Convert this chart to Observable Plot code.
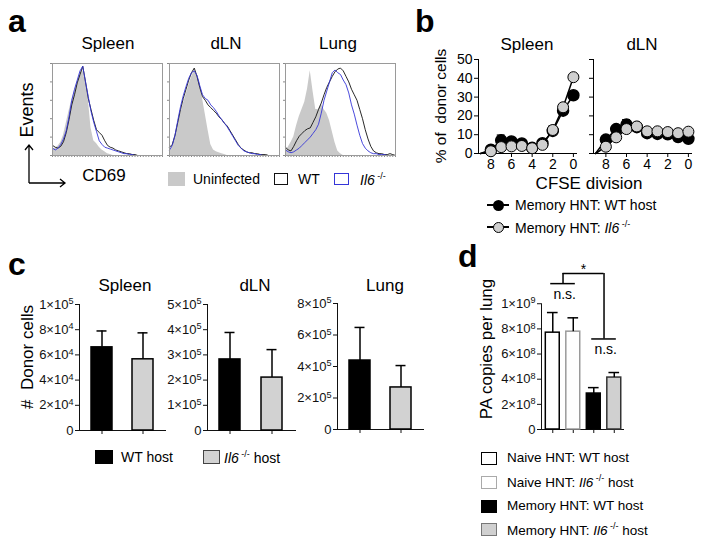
<!DOCTYPE html>
<html><head><meta charset="utf-8">
<script src="https://cdn.jsdelivr.net/npm/d3@7"></script>
<script src="https://cdn.jsdelivr.net/npm/@observablehq/plot@0.6"></script>
<style>
body{margin:0;background:#fff;}
#fig{position:relative;width:701px;height:549px;overflow:hidden;font-family:"Liberation Sans",Arial,Helvetica,sans-serif;color:#000;background:#fff;}
.t{position:absolute;white-space:pre;line-height:1;}
.c{transform:translate(-50%,-50%);}
.l{transform:translate(0,-50%);}
.r{transform:translate(-50%,-50%) rotate(-90deg);}
.letter{font-weight:bold;font-size:32px;line-height:32px;}
.sw{position:absolute;box-sizing:border-box;}
.sup{font-size:9px;vertical-align:6px;}
</style></head>
<body><div id="fig"></div>
<script>
// ================= DATA =================
// Panel a: CD69 histograms, % of modal events per bin (41 bins along log CD69 axis)
const histBins = d3.range(41);
const spleenUninfected = [7,8,10,14,22,35,48,60,70,80,89,93,80,62,30,16,13,9,6,4,2,1,0,0,0,0,0,0,0,0,0,0,0,0,0,0,0,0,0,0,0];
const spleenWTHist     = [11,9,8,10,15,25,39,55,66,79,88,97,80,62,50,38,28,25,22,16,11,9,8,6,5,4,3,2,2,1,1,0,0,0,0,0,0,0,0,0,0];
const spleenIl6Hist    = [8,6,8,12,18,27,42,60,72,82,92,97,80,64,48,36,26,16,12,9,8,7,6,5,4,3,2,2,1,1,0,0,0,0,0,0,0,0,0,0,0];
const dlnUninfected    = [5,10,20,32,45,56,66,76,85,92,88,80,62,45,28,12,6,4,3,2,1,0,0,0,0,0,0,0,0,0,0,0,0,0,0,0,0,0,0,0,0];
const dlnWTHist        = [9,12,22,36,50,62,72,82,90,95,86,74,64,60,55,52,49,46,42,39,35,32,27,22,17,12,8,6,4,3,3,2,2,1,1,1,0,0,0,0,0];
const dlnIl6Hist       = [6,11,22,38,53,65,75,84,90,92,87,76,66,62,60,55,52,48,43,39,35,31,26,21,16,11,8,5,4,3,2,2,1,1,0,0,0,0,0,0,0];
const lungUninfected   = [5,9,14,20,32,42,50,58,72,92,70,50,50,56,50,46,38,26,14,5,2,0,0,0,0,0,0,0,0,0,0,0,0,0,0,0,0,0,0,0,0];
const lungWTHist       = [9,6,5,10,16,21,24,27,29,30,36,42,50,57,66,74,80,86,91,94,95,92,86,80,72,66,60,50,40,28,18,10,5,3,2,2,1,1,2,1,0];
const lungIl6Hist      = [6,4,3,4,6,8,11,14,17,20,24,28,34,46,60,70,80,90,93,90,88,82,77,68,55,45,33,22,13,8,5,3,2,2,1,1,1,0,0,0,0];

// Panel b: % of donor cells per CFSE division (9 = line origin)
const cfseDivision = [9, 8, 7, 6, 5, 4, 3, 2, 1, 0];
const cfseTicks = [8, 6, 4, 2, 0];
const pctTicks = [0, 10, 20, 30, 40, 50];
const spleenWT     = [0, 2.0, 7.0, 6.4, 5.3, 3.0, 5.5, 12.0, 22.8, 31.0];
const spleenWTsem  = [0, 0.5, 2.8, 1.0, 1.0, 0.5, 1.0, 2.6, 1.0, 1.0];
const spleenIl6    = [0, 1.2, 3.4, 3.8, 4.0, 2.8, 4.6, 12.5, 24.6, 40.6];
const spleenIl6sem = [0, 0.5, 0.5, 0.5, 0.5, 0.5, 1.0, 1.5, 1.5, 1.5];
const dlnWT        = [0, 7.4, 13.0, 15.4, 14.0, 10.8, 10.4, 10.2, 8.8, 7.8];
const dlnWTsem     = [0, 1.0, 1.0, 2.6, 1.0, 1.0, 1.0, 1.0, 1.0, 1.0];
const dlnIl6       = [0, 3.6, 8.6, 13.0, 14.4, 11.8, 11.8, 11.4, 10.8, 11.6];
const dlnIl6sem    = [0, 0.5, 0.5, 0.5, 0.5, 0.5, 0.5, 0.5, 0.5, 0.5];

// Panel c: # donor cells
const hosts = ["WT host", "Il6-/- host"];
const donorSpleen = [66000, 56500];   const donorSpleenSem = [13000, 21000];
const donorDLN    = [282000, 210000]; const donorDLNSem    = [107000, 111000];
const donorLung   = [438000, 267000]; const donorLungSem   = [210000, 139000];
const spleenTicks = [0, 2e4, 4e4, 6e4, 8e4, 1e5];
const spleenTickLabels = ["0", "2×10^4", "4×10^4", "6×10^4", "8×10^4", "1×10^5"];
const dlnTicks = [0, 1e5, 2e5, 3e5, 4e5, 5e5];
const dlnTickLabels = ["0", "1×10^5", "2×10^5", "3×10^5", "4×10^5", "5×10^5"];
const lungTicks = [0, 2e5, 4e5, 6e5, 8e5];
const lungTickLabels = ["0", "2×10^5", "4×10^5", "6×10^5", "8×10^5"];

// Panel d: PA copies per lung
const paGroups = ["Naive HNT: WT host", "Naive HNT: Il6-/- host", "Memory HNT: WT host", "Memory HNT: Il6-/- host"];
const paCopies = [7.70e8, 7.78e8, 2.86e8, 4.13e8];
const paSem    = [1.60e8, 1.10e8, 0.47e8, 0.40e8];
const paTicks = [0, 2e8, 4e8, 6e8, 8e8, 1e9];
const paTickLabels = ["0", "2×10^8", "4×10^8", "6×10^8", "8×10^8", "1×10^9"];
const nsComparisons = [{a: 0, b: 1, level: 1.16e9, label: "n.s."}, {a: 2, b: 3, level: 0.72e9, label: "n.s."}];
const starComparison = {level: 1.24e9, label: "*"};

// ================= LAYOUT HELPERS =================
const fig = document.getElementById("fig");
const SVGNS = "http://www.w3.org/2000/svg";
const FONT = '"Liberation Sans", Arial, Helvetica, sans-serif';
const baseStyle = (fs, color = "#000") => ({fontFamily: FONT, fontSize: fs + "px", color, background: "transparent", overflow: "visible"});
function place(node, left, top) {
  node.style.position = "absolute"; node.style.left = left + "px"; node.style.top = top + "px";
  node.style.maxWidth = "none"; fig.appendChild(node); return node;
}
// turn "a×10^b" tick labels into real superscripts
function superscripts(svg) {
  svg.querySelectorAll("text").forEach(t => {
    const m = t.textContent.match(/^(.*)\^(\d+)$/);
    if (!m) return;
    t.textContent = "";
    const base = document.createElementNS(SVGNS, "tspan"); base.textContent = m[1];
    const sup = document.createElementNS(SVGNS, "tspan"); sup.textContent = m[2];
    sup.setAttribute("font-size", "0.7em"); sup.setAttribute("dy", "-0.5em");
    t.append(base, sup);
  });
  return svg;
}
function label(html, x, y, size, cls = "c", extra = "") {
  const d = document.createElement("div");
  d.className = "t " + cls; d.innerHTML = html;
  d.style.cssText += `left:${x}px;top:${y}px;font-size:${size}px;${extra}`;
  fig.appendChild(d); return d;
}
function swatch(x, y, w, h, css) {
  const d = document.createElement("div");
  d.className = "sw"; d.style.cssText += `left:${x}px;top:${y}px;width:${w}px;height:${h}px;${css}`;
  fig.appendChild(d); return d;
}
const IL6 = '<i>Il6</i><span class="sup"> -/-</span>';

// ================= PANEL a =================
function histPlot(uninf, wt, il6) {
  const rows = histBins.map(i => ({i, u: uninf[i], w: wt[i], k: il6[i]}));
  return Plot.plot({
    width: 118, height: 100, margin: 4, style: baseStyle(8, "#8a8a8a"),
    x: {domain: [0, 40], ticks: 40, tickSize: 2, tickFormat: () => "", label: null},
    y: {domain: [0, 100], ticks: 6, tickSize: 2, tickFormat: () => "", label: null},
    marks: [
      Plot.areaY(rows, {x: "i", y: "u", fill: "#c9c9c9"}),
      Plot.lineY(rows, {x: "i", y: "w", stroke: "#111", strokeWidth: 0.9}),
      Plot.lineY(rows, {x: "i", y: "k", stroke: "#3535d8", strokeWidth: 0.9}),
      Plot.frame({stroke: "#9a9a9a"})
    ]
  });
}
place(histPlot(spleenUninfected, spleenWTHist, spleenIl6Hist), 48, 59);
place(histPlot(dlnUninfected, dlnWTHist, dlnIl6Hist), 165, 59);
place(histPlot(lungUninfected, lungWTHist, lungIl6Hist), 281, 59);

label("a", 8, 5, 32, "letter");
label("Spleen", 108, 43, 17); label("dLN", 226, 43, 17); label("Lung", 338, 43, 17);
label("Events", 27, 110, 18, "r");
label("CD69", 104, 175, 17);
const arrow = document.createElementNS(SVGNS, "svg");
arrow.setAttribute("width", 55); arrow.setAttribute("height", 50);
arrow.innerHTML = '<g fill="none" stroke="#000" stroke-width="1.3"><path d="M9 43V5M5 10L9 5L13 10M9 43H45M40 39L45 43L40 47"/></g>';
place(arrow, 20, 140);
swatch(168, 172, 17, 14, "background:#c9c9c9;");
label("Uninfected", 193, 179, 14, "l");
swatch(274, 173, 14, 12, "border:1.5px solid #111;");
label("WT", 298, 179, 14, "l");
swatch(334, 173, 15, 12, "border:1.5px solid #3535d8;");
label(IL6, 360, 179, 14, "l");

// ================= PANEL b =================
function cfsePlot(wt, wtSem, il6, il6Sem, showLabels) {
  const mk = (v, e) => cfseDivision.map((d, i) => ({d, v: v[i], e: e[i]}));
  const wtData = mk(wt, wtSem), il6Data = mk(il6, il6Sem);
  const pts = arr => arr.filter(p => p.d < cfseDivision[0]);
  const errMarks = data => [
    Plot.ruleX(pts(data), {x: "d", y1: "v", y2: p => p.v + p.e, strokeWidth: 1.3}),
    Plot.ruleY(pts(data), {y: p => p.v + p.e, x1: p => p.d - 0.38, x2: p => p.d + 0.38, strokeWidth: 1.3})
  ];
  return Plot.plot({
    width: 134, height: 124, marginLeft: 28, marginRight: 8, marginTop: 6, marginBottom: 24,
    style: baseStyle(14),
    x: {domain: [9.2, -0.3], ticks: cfseTicks, tickSize: 4, tickPadding: 2, label: null, line: true},
    y: {domain: [0, 50], ticks: pctTicks, tickSize: 4, tickPadding: 2, label: null, line: true,
        tickFormat: showLabels ? (d => String(d)) : (() => "")},
    marks: [
      ...errMarks(wtData), ...errMarks(il6Data),
      Plot.line(wtData, {x: "d", y: "v", stroke: "#000", strokeWidth: 1.5}),
      Plot.line(il6Data, {x: "d", y: "v", stroke: "#000", strokeWidth: 1.5}),
      Plot.dot(pts(wtData), {x: "d", y: "v", r: 5.5, fill: "#000", stroke: "#000"}),
      Plot.dot(pts(il6Data), {x: "d", y: "v", r: 5.5, fill: "#cfcfcf", stroke: "#000", strokeWidth: 1})
    ]
  });
}
place(cfsePlot(spleenWT, spleenWTsem, spleenIl6, spleenIl6sem, true), 450, 53);
place(cfsePlot(dlnWT, dlnWTsem, dlnIl6, dlnIl6sem, false), 564.5, 53);
label("b", 415, 5, 32, "letter");
label("Spleen", 527, 44, 17); label("dLN", 642, 44, 17);
label("% of  donor cells", 441, 106, 15.5, "r");
label("CFSE division", 589, 183, 17);
swatch(487, 204, 22, 1.6, "background:#000;");
swatch(492.5, 199.5, 11, 11, "background:#000;border-radius:50%;");
label("Memory HNT: WT host", 515, 205, 14, "l");
swatch(487, 226, 22, 1.6, "background:#000;");
swatch(492.5, 221.5, 11, 11, "background:#cfcfcf;border:1px solid #000;border-radius:50%;");
label("Memory HNT: " + IL6, 515, 227, 14, "l");

// ================= PANEL c =================
const hostFill = {"WT host": "#000", "Il6-/- host": "#d2d2d2"};
function donorPlot(vals, sems, ticks, tickLabels, axisWidth) {
  const data = hosts.map((h, i) => ({h, v: vals[i], e: sems[i]}));
  return superscripts(Plot.plot({
    width: 40 + axisWidth + 4, height: 146, marginLeft: 40, marginRight: 4, marginTop: 8, marginBottom: 12,
    style: baseStyle(13, "#111"),
    color: {type: "identity"},
    x: {domain: hosts, paddingInner: 0.49, paddingOuter: 0.29, tickSize: 4, tickFormat: () => "", label: null, line: true},
    y: {domain: [0, ticks[ticks.length - 1]], ticks, tickFormat: d => tickLabels[ticks.indexOf(d)], tickSize: 4, tickPadding: 2, label: null, line: true},
    marks: [
      Plot.barY(data, {x: "h", y: "v", fill: d => hostFill[d.h], stroke: "#000", strokeWidth: 1.5}),
      Plot.ruleX(data, {x: "h", y1: "v", y2: d => d.v + d.e, stroke: "#000", strokeWidth: 1.5}),
      Plot.tickY(data, {x: "h", y: d => d.v + d.e, stroke: "#000", strokeWidth: 1.5, insetLeft: 5.5, insetRight: 5.5})
    ]
  }));
}
place(donorPlot(donorSpleen, donorSpleenSem, spleenTicks, spleenTickLabels, 86), 39, 296);
place(donorPlot(donorDLN, donorDLNSem, dlnTicks, dlnTickLabels, 88), 167, 296);
place(donorPlot(donorLung, donorLungSem, lungTicks, lungTickLabels, 86), 297, 295);
label("c", 8, 248, 32, "letter");
label("Spleen", 125, 285, 17); label("dLN", 255, 285, 17); label("Lung", 385, 285, 17);
label("#  Donor cells", 27, 357, 17, "r");
swatch(95, 450, 18, 14, "background:#000;");
label("WT host", 121, 457, 14, "l");
swatch(203, 450, 17, 14, "background:#d2d2d2;border:1px solid #444;");
label(IL6 + " host", 224, 457, 14, "l");

// ================= PANEL d =================
const paFill = {"Naive HNT: WT host": "#fff", "Naive HNT: Il6-/- host": "#fff", "Memory HNT: WT host": "#000", "Memory HNT: Il6-/- host": "#d0d0d0"};
const paStroke = {"Naive HNT: WT host": "#000", "Naive HNT: Il6-/- host": "#9a9a9a", "Memory HNT: WT host": "#000", "Memory HNT: Il6-/- host": "#333"};
const paData = paGroups.map((g, i) => ({g, i, v: paCopies[i], e: paSem[i]}));
const paX = [-0.55, 3.45];
const mid = c => (c.a + c.b) / 2;
const dPlot = superscripts(Plot.plot({
  width: 130, height: 192, marginLeft: 42, marginRight: 6, marginTop: 14, marginBottom: 12,
  style: baseStyle(13, "#111"),
  color: {type: "identity"},
  x: {domain: paX, ticks: paGroups.map((g, i) => i), tickSize: 4, tickFormat: () => "", label: null, line: true},
  y: {domain: [0, 1.32e9], ticks: paTicks, tickFormat: d => paTickLabels[paTicks.indexOf(d)], tickSize: 4, tickPadding: 2, label: null},
  marks: [
    Plot.ruleX([paX[0]], {y1: 0, y2: paTicks[paTicks.length - 1], stroke: "#111"}),
    Plot.rectY(paData, {x1: d => d.i - 0.34, x2: d => d.i + 0.34, y1: 0, y2: "v", fill: d => paFill[d.g], stroke: d => paStroke[d.g], strokeWidth: 1.5}),
    Plot.ruleX(paData, {x: "i", y1: "v", y2: d => d.v + d.e, stroke: "#000", strokeWidth: 1.5}),
    Plot.ruleY(paData, {y: d => d.v + d.e, x1: d => d.i - 0.26, x2: d => d.i + 0.26, stroke: "#000", strokeWidth: 1.5}),
    Plot.ruleY(nsComparisons, {y: "level", x1: c => mid(c) - 0.6, x2: c => mid(c) + 0.6, stroke: "#000", strokeWidth: 1.5}),
    Plot.ruleX(nsComparisons, {x: mid, y1: "level", y2: () => starComparison.level, stroke: "#000", strokeWidth: 1.5}),
    Plot.ruleY([starComparison], {y: "level", x1: () => mid(nsComparisons[0]), x2: () => mid(nsComparisons[1]), stroke: "#000", strokeWidth: 1.5}),
    Plot.text(nsComparisons, {x: c => mid(c) + 0.08, y: "level", text: "label", dy: 11, fontSize: 14, fill: "#000"}),
    Plot.text([starComparison], {x: () => (mid(nsComparisons[0]) + mid(nsComparisons[1])) / 2, y: "level", text: "label", dy: -4, fontSize: 14, fill: "#000"})
  ]
}));
place(dPlot, 499, 249);
label("d", 458, 240, 32, "letter");
label("PA copies per lung", 486, 349, 17, "r");
swatch(481, 452, 16, 13, "background:#fff;border:1.5px solid #000;");
label("Naive HNT: WT host", 507, 458, 13.5, "l");
swatch(481, 476, 16, 13, "background:#fff;border:1.5px solid #aaa;");
label("Naive HNT: " + IL6 + " host", 507, 482, 13.5, "l");
swatch(481, 500, 16, 13, "background:#000;");
label("Memory HNT: WT host", 507, 506, 13.5, "l");
swatch(481, 523, 16, 13, "background:#d0d0d0;border:1px solid #777;");
label("Memory HNT: " + IL6 + " host", 507, 530, 13.5, "l");
</script></body></html>
